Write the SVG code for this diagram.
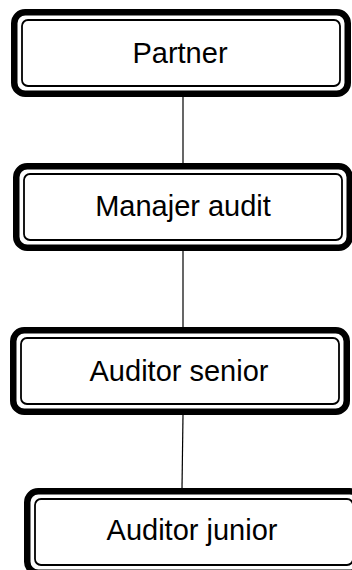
<svg xmlns="http://www.w3.org/2000/svg" width="352" height="570" viewBox="0 0 352 570">
<style>
.outer{fill:#fff;stroke:#000;stroke-width:6.5}
.inner{fill:none;stroke:#000;stroke-width:1.8}
.lbl{font-family:"Liberation Sans",Arial,sans-serif;font-size:29px;fill:#000;text-anchor:middle}
.conn line{stroke:#000;stroke-width:1.2}
</style>
<rect width="352" height="570" fill="#fff"/>
<g class="conn" id="connectors">
<line x1="183" y1="97" x2="183" y2="163"/>
<line x1="183" y1="251" x2="183" y2="327"/>
<line x1="183" y1="415" x2="182" y2="488"/>
</g>
<g id="partner" transform="translate(11,9)">
<rect class="outer" x="3.25" y="3.25" width="333.5" height="81.5" rx="11"/>
<rect class="inner" x="11" y="11" width="318" height="66" rx="6"/>
<text class="lbl" x="169" y="54">Partner</text>
</g>
<g id="manajer" transform="translate(13,163)">
<rect class="outer" x="3.25" y="3.25" width="333.5" height="81.5" rx="11"/>
<rect class="inner" x="11" y="11" width="318" height="66" rx="6"/>
<text class="lbl" x="170" y="53">Manajer audit</text>
</g>
<g id="senior" transform="translate(10,327)">
<rect class="outer" x="3.25" y="3.25" width="333.5" height="81.5" rx="11"/>
<rect class="inner" x="11" y="11" width="318" height="66" rx="6"/>
<text class="lbl" x="169" y="54">Auditor senior</text>
</g>
<g id="junior" transform="translate(24,488)">
<rect class="outer" x="3.25" y="3.25" width="333.5" height="81.5" rx="11"/>
<rect class="inner" x="11" y="11" width="318" height="66" rx="6"/>
<text class="lbl" x="168" y="52">Auditor junior</text>
</g>
</svg>
